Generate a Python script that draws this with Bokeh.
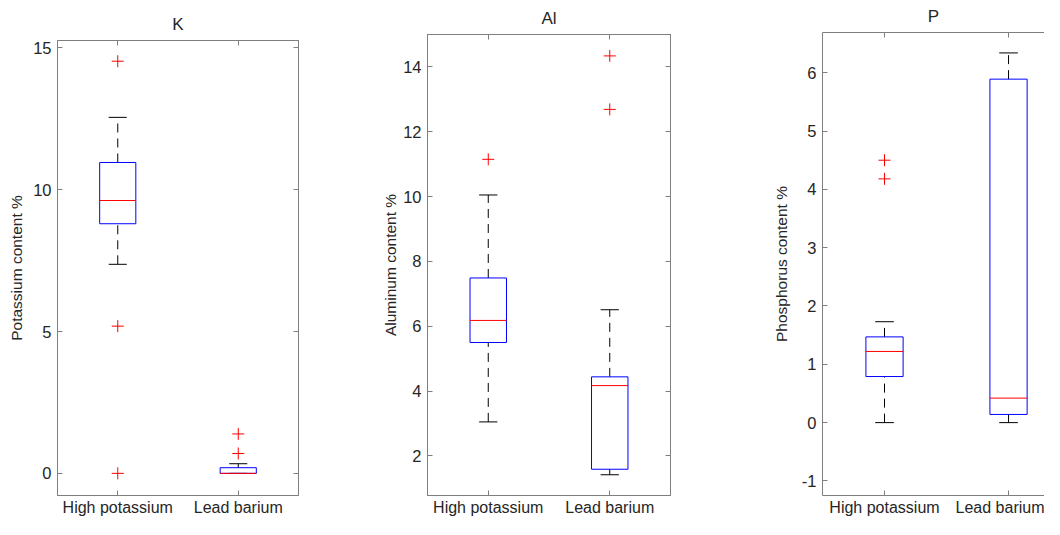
from bokeh.plotting import figure
from bokeh.models import FixedTicker, LinearAxis, Range1d
from bokeh.layouts import row
from bokeh.embed import file_html
from bokeh.resources import INLINE

# ---------------- data ----------------
categories = ["High potassium", "Lead barium"]

# K (potassium)
k_q1 = [8.80, 0.00]
k_median = [9.62, 0.00]
k_q3 = [10.96, 0.20]
k_low = [7.37, 0.00]
k_high = [12.55, 0.34]
k_out_cat = ["High potassium", "High potassium", "High potassium", "Lead barium", "Lead barium"]
k_out_val = [14.53, 5.19, 0.00, 1.39, 0.70]
k_ticks = [0, 5, 10, 15]

# Al (aluminium)
al_q1 = [5.50, 1.59]
al_median = [6.18, 4.17]
al_q3 = [7.49, 4.44]
al_low = [3.05, 1.42]
al_high = [10.05, 6.51]
al_out_cat = ["High potassium", "Lead barium", "Lead barium"]
al_out_val = [11.15, 14.34, 12.69]
al_ticks = [2, 4, 6, 8, 10, 12, 14]

# P (phosphorus)
p_q1 = [0.79, 0.14]
p_median = [1.22, 0.42]
p_q3 = [1.47, 5.89]
p_low = [0.00, 0.00]
p_high = [1.73, 6.34]
p_out_cat = ["High potassium", "High potassium"]
p_out_val = [4.50, 4.18]
p_ticks = [-1, 0, 1, 2, 3, 4, 5, 6]

# ---------------- style ----------------
FONT = "Liberation Sans"
AX = "#7f7f7f"
TXT = "#262626"
BOX_W = 0.30
CAP_W = 0.15


def panel(title, ylabel, q1, med, q3, lo, hi, out_cat, out_val, yticks,
          y_range, width, height, b_left, b_right, b_top, b_bottom, x_end,
          label_standoff, xlab_standoff, shift_up=0, right_axis=True):
    xs = [i + 1 for i in range(len(categories))]
    p = figure(width=width, height=height, output_backend="svg", title=None,
               toolbar_location=None, x_range=Range1d(0.5, x_end),
               y_range=Range1d(*y_range),
               min_border_left=b_left, min_border_right=b_right,
               min_border_top=b_top, min_border_bottom=b_bottom,
               margin=(-shift_up, 0, 0, 0))
    p.grid.visible = False
    p.outline_line_color = AX if right_axis else None
    p.background_fill_color = "white"
    p.border_fill_color = "white"

    # bottom axis
    xa = p.xaxis[0]
    xa.ticker = FixedTicker(ticks=xs)
    xa.major_label_overrides = {x: c for x, c in zip(xs, categories)}
    xa.major_label_text_font = FONT
    xa.major_label_text_font_size = "16px"
    xa.major_label_text_color = TXT
    xa.major_label_standoff = xlab_standoff
    xa.major_tick_in = 5
    xa.major_tick_out = 0
    xa.minor_tick_line_color = None
    xa.axis_line_color = AX
    xa.major_tick_line_color = AX

    # left axis
    ya = p.yaxis[0]
    ya.ticker = FixedTicker(ticks=yticks)
    ya.major_label_overrides = {t: str(t) for t in yticks}
    ya.major_label_text_font = FONT
    ya.major_label_text_font_size = "16.5px"
    ya.major_label_text_color = TXT
    ya.major_label_standoff = 6
    ya.major_tick_in = 5
    ya.major_tick_out = 0
    ya.minor_tick_line_color = None
    ya.axis_line_color = AX
    ya.major_tick_line_color = AX
    ya.axis_label = ylabel
    ya.axis_label_text_font = FONT
    ya.axis_label_text_font_size = "15.5px"
    ya.axis_label_text_font_style = "normal"
    ya.axis_label_text_color = TXT
    ya.axis_label_standoff = label_standoff

    # top axis (ticks only) carrying the panel title as its label
    top = LinearAxis(ticker=FixedTicker(ticks=xs), major_label_text_font_size="0px",
                     major_label_standoff=0, major_tick_in=5, major_tick_out=0,
                     minor_tick_line_color=None, axis_line_color=AX,
                     major_tick_line_color=AX,
                     axis_label=title, axis_label_text_font=FONT,
                     axis_label_text_font_size="17px",
                     axis_label_text_font_style="normal",
                     axis_label_text_color=TXT, axis_label_standoff=7)
    top.major_label_overrides = {x: "" for x in xs}
    p.add_layout(top, "above")

    if right_axis:
        right = LinearAxis(ticker=FixedTicker(ticks=yticks), major_label_text_font_size="0px",
                           major_label_standoff=0, major_tick_in=5, major_tick_out=0,
                           minor_tick_line_color=None, axis_line_color=AX,
                           major_tick_line_color=AX)
        right.major_label_overrides = {t: "" for t in yticks}
        p.add_layout(right, "right")

    left_edge = [x - BOX_W / 2 for x in xs]
    right_edge = [x + BOX_W / 2 for x in xs]
    cap_l = [x - CAP_W / 2 for x in xs]
    cap_r = [x + CAP_W / 2 for x in xs]

    # whiskers (dashed)
    p.segment(x0=xs, x1=xs, y0=q3, y1=hi, line_color="black", line_width=1,
              line_dash="9 6")
    p.segment(x0=xs, x1=xs, y0=lo, y1=q1, line_color="black", line_width=1,
              line_dash="9 6")
    # caps
    p.segment(x0=cap_l, x1=cap_r, y0=hi, y1=hi, line_color="black", line_width=1)
    p.segment(x0=cap_l, x1=cap_r, y0=lo, y1=lo, line_color="black", line_width=1)
    # boxes
    p.quad(left=left_edge, right=right_edge, bottom=q1, top=q3,
           fill_color=None, line_color="blue", line_width=1)
    # medians
    p.segment(x0=left_edge, x1=right_edge, y0=med, y1=med, line_color="red",
              line_width=1)
    # outliers
    ox = [categories.index(c) + 1 for c in out_cat]
    p.scatter(x=ox, y=out_val, marker="cross", size=12, line_color="red",
              line_width=1)
    return p


p1 = panel("K", "Potassium content %", k_q1, k_median, k_q3, k_low, k_high,
           k_out_cat, k_out_val, k_ticks, (-0.78, 15.26),
           width=360, height=519, b_left=57, b_right=62, b_top=40, b_bottom=22,
           x_end=2.5, label_standoff=5, xlab_standoff=3)
p2 = panel("Al", "Aluminum content %", al_q1, al_median, al_q3, al_low, al_high,
           al_out_cat, al_out_val, al_ticks, (0.78, 15.0),
           width=400, height=525, b_left=67, b_right=90, b_top=40, b_bottom=21,
           x_end=2.5, label_standoff=1, xlab_standoff=3, shift_up=6)
p3 = panel("P", "Phosphorus content %", p_q1, p_median, p_q3, p_low, p_high,
           p_out_cat, p_out_val, p_ticks, (-1.25, 6.69),
           width=284, height=527, b_left=62, b_right=0, b_top=40, b_bottom=24,
           x_end=2.29, label_standoff=9, xlab_standoff=3, shift_up=8,
           right_axis=False)

layout = row(p1, p2, p3, spacing=0)

open("out.html", "w").write(file_html(layout, INLINE))
